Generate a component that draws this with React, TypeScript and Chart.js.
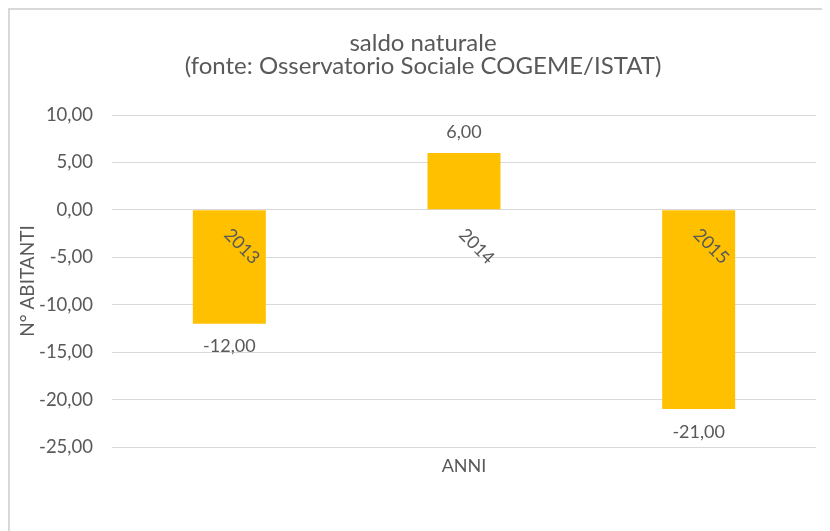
import React, { useEffect, useRef } from "react";
import { Chart, registerables } from "chart.js";

Chart.register(...registerables);

const categories: string[] = ["2013", "2014", "2015"];
const saldoNaturale: number[] = [-12, 6, -21];
const titleLines: string[] = ["saldo naturale", "(fonte: Osservatorio Sociale COGEME/ISTAT)"];
const yAxisTitle = "N° ABITANTI";
const xAxisTitle = "ANNI";
const yMin = -25;
const yMax = 10;
const yStep = 5;

const FONT = "Lato";
const TEXT = "#595959";
const BAR = "#FFC000";
const GRID = "#D9D9D9";

const fmt = (v: number) => v.toFixed(2).replace(".", ",");

const labelsPlugin = {
  id: "excelLabels",
  afterDatasetsDraw(chart: any) {
    const { ctx, scales } = chart;
    const xs = scales.x;
    const ys = scales.y;
    const meta = chart.getDatasetMeta(0);
    const y0 = ys.getPixelForValue(0);
    ctx.save();
    ctx.fillStyle = TEXT;
    ctx.font = `18px ${FONT}`;
    ctx.textAlign = "center";
    ctx.textBaseline = "middle";
    meta.data.forEach((bar: any, i: number) => {
      const v = saldoNaturale[i];
      const yEnd = ys.getPixelForValue(v);
      const y = v >= 0 ? yEnd - 21 : yEnd + 23;
      ctx.fillText(fmt(v), bar.x, y);
    });
    categories.forEach((c, i) => {
      const x = xs.getPixelForValue(i);
      ctx.save();
      ctx.translate(x + 12.5, y0 + 36.5);
      ctx.rotate(Math.PI / 4);
      ctx.fillText(c, 0, 0);
      ctx.restore();
    });
    ctx.restore();
  },
};

export default function App() {
  const ref = useRef<HTMLCanvasElement>(null);
  useEffect(() => {
    if (!ref.current) return;
    const chart = new Chart(ref.current, {
      type: "bar",
      data: {
        labels: categories,
        datasets: [
          {
            data: saldoNaturale,
            backgroundColor: BAR,
            borderWidth: 0,
            categoryPercentage: 1,
            barPercentage: 0.311,
          },
        ],
      },
      options: {
        responsive: false,
        animation: false,
        layout: { padding: { top: 0, left: 20, right: 14, bottom: 0 } },
        plugins: {
          legend: { display: false },
          tooltip: { enabled: false },
          title: {
            display: true,
            text: titleLines,
            color: TEXT,
            font: { family: FONT, size: 24, weight: "normal", lineHeight: "23px" },
            padding: { top: 21.5, bottom: 37.5 },
          },
        },
        scales: {
          x: {
            grid: { display: false, drawTicks: false },
            border: { display: false },
            ticks: { display: false },
            title: {
              display: true,
              text: xAxisTitle,
              color: TEXT,
              font: { family: FONT, size: 18, lineHeight: 1.2 },
              padding: { top: 8, bottom: 54 },
            },
            afterFit: (s: any) => {
              s.height = 84;
            },
          },
          y: {
            min: yMin,
            max: yMax,
            grid: { color: GRID, drawTicks: false, lineWidth: 1 },
            border: { display: false },
            ticks: {
              stepSize: yStep,
              color: TEXT,
              padding: 19,
              font: { family: FONT, size: 18.5 },
              callback: (v: any) => fmt(Number(v)),
            },
            title: {
              display: true,
              text: yAxisTitle,
              color: TEXT,
              font: { family: FONT, size: 19, lineHeight: "4px" },
              padding: { top: -4, bottom: 0 },
            },
            afterFit: (s: any) => {
              s.width = 82;
            },
          },
        },
      },
      plugins: [labelsPlugin],
    });
    return () => chart.destroy();
  }, []);

  return (
    <div
      style={{
        width: 822,
        height: 523,
        borderTop: `2px solid ${GRID}`,
        borderLeft: `2px solid ${GRID}`,
        boxSizing: "border-box",
        background: "#fff",
      }}
    >
      <canvas ref={ref} width={820} height={521} style={{ display: "block" }} />
    </div>
  );
}
